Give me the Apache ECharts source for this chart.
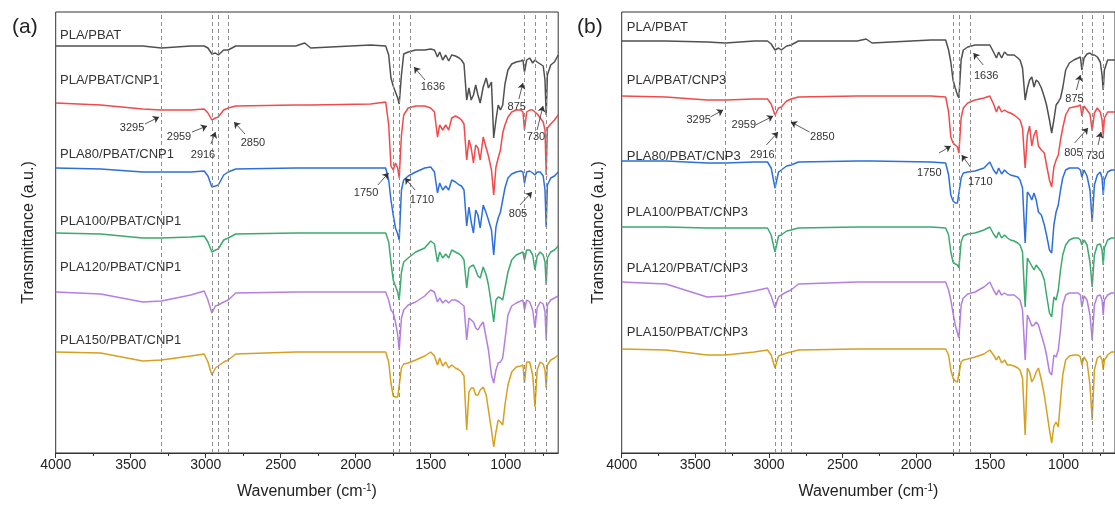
<!DOCTYPE html>
<html>
<head>
<meta charset="utf-8">
<script src="https://cdn.jsdelivr.net/npm/echarts@6/dist/echarts.min.js"></script>
<style>
  html, body { margin: 0; padding: 0; background: #fff; }
  #chart { width: 1115px; height: 505px; }
</style>
</head>
<body>
<div id="chart"></div>
<script>
// wavenumber grid (cm-1) shared by all spectra
const wn = [4000, 3700, 3420, 3295, 3100, 3010, 2985, 2959, 2935, 2916, 2880, 2850, 2800, 2400, 2340, 2300, 1900, 1800, 1780, 1765,
  1750, 1735, 1720, 1710, 1695, 1680, 1650, 1600, 1540, 1500, 1475, 1455, 1440, 1420, 1400, 1380, 1360, 1335, 1310, 1295,
  1278, 1260, 1245, 1230, 1215, 1200, 1185, 1170, 1150, 1130, 1115, 1095, 1080, 1065, 1050, 1035, 1020, 1005, 985, 960,
  930, 900, 885, 875, 860, 840, 820, 805, 790, 770, 750, 738, 730, 722, 700, 675, 650];

// panel (a) transmittance, offset (a.u.)
const aPlaPbat = [407,407,407,405,407,407,405,399,400,398, 403,403,407,407,410,405,408,407,398,375, 367,361,355,349,378,399,401,403,403,404,
  403,396,401,393,398,392,398,397,395,393, 389,353,365,353,358,368,358,350,366,375, 365,371,315,333,348,343,348,369,383,389,
  391,392,393,381,393,395,390,393,391,389, 387,373,338,378,388,391,398];
const aCnp1 = [350,348,344,343,343,344,340,333,335,336, 343,345,347,348,348,348,349,351,328,287, 283,290,285,275,318,338,345,347,347,345,
  341,316,328,323,328,323,335,337,335,333, 329,293,313,305,290,308,305,293,316,305, 297,283,258,286,295,303,320,328,336,341,
  343,343,341,323,341,343,343,341,339,335, 331,323,278,325,329,333,338];
const a80 = [285,284,281,281,281,282,277,266,267,268, 278,281,284,285,285,285,285,285,273,253, 238,225,219,213,263,273,277,281,285,286,
  281,260,270,263,267,263,273,271,268,267, 263,227,246,231,220,243,238,225,248,240, 233,223,198,226,235,241,253,265,275,279,
  281,282,281,270,281,282,280,278,281,281, 277,263,226,268,275,277,281];
const a100 = [220,219,215,215,216,217,211,201,203,204, 213,215,219,220,220,220,220,220,211,191, 173,167,161,153,181,191,195,201,205,212,
  209,191,201,195,199,195,203,201,199,197, 193,165,185,187,188,183,177,175,186,178, 168,148,131,153,156,155,153,165,181,193,
  198,200,201,193,203,203,198,183,197,201, 198,191,168,195,201,203,207];
const a120 = [161,159,151,152,158,162,153,140,147,148, 151,153,160,161,161,161,161,161,153,143, 140,131,118,103,135,143,148,151,157,163,
  161,151,155,150,153,150,153,153,151,149, 147,113,135,133,131,125,123,127,131,115, 103,78,70,83,90,91,95,113,138,147,
  150,152,153,143,153,151,143,125,145,151, 149,141,113,148,153,155,157];
const a150 = [101,100,92,93,97,99,91,78,85,87, 91,93,99,101,101,101,101,101,91,70, 57,56,56,55,85,89,90,93,97,101,
  97,88,95,87,91,85,88,85,83,81, 77,23,61,65,65,58,58,63,66,58, 43,23,6,21,33,31,28,48,68,81,
  86,87,88,70,91,91,78,46,83,91, 89,83,65,88,93,95,98];

// panel (b)
const bPlaPbat = [412,412,411,410,412,412,409,403,405,403, 407,408,412,412,414,410,413,413,403,391, 373,365,358,355,393,403,406,408,408,408,
  401,395,401,395,401,398,398,398,395,393, 385,353,365,373,376,366,373,371,365,356, 348,333,320,333,348,351,355,365,383,390,
  393,395,396,383,395,399,400,398,398,396, 391,378,363,383,393,393,393];
const bCnp3 = [357,356,353,353,354,354,349,338,345,346, 352,354,356,357,357,357,357,356,341,316, 310,308,306,300,335,345,350,353,355,357,
  349,341,347,341,343,341,340,338,335,333, 325,285,318,327,307,318,323,307,303,300, 288,273,266,286,293,298,313,325,338,345,
  346,347,348,337,347,343,339,322,340,345, 341,333,318,335,341,341,341];
const b80 = [292,292,290,290,291,291,285,265,281,283, 287,288,291,292,292,292,291,290,278,258, 252,250,250,250,275,280,281,282,285,291,
  283,279,285,279,283,280,278,277,276,273, 265,210,261,258,253,260,253,241,238,228, 218,203,200,228,241,248,263,275,283,285,
  285,285,283,276,283,277,263,231,268,278, 281,275,258,273,281,283,283];
const b100 = [226,226,225,225,225,225,218,201,217,218, 222,223,225,226,226,226,226,225,218,201, 191,189,188,185,211,217,219,220,223,226,
  219,215,221,215,218,215,213,212,210,208, 201,146,195,191,187,183,188,185,181,173, 158,140,136,156,153,163,183,198,208,213,
  215,215,213,208,213,208,191,166,198,208, 209,203,188,205,213,215,215];
const b120 = [171,169,156,157,162,165,157,145,156,158, 161,163,169,171,171,171,171,171,163,153, 140,128,120,115,148,155,159,161,166,171,
  163,158,163,158,160,158,158,158,155,153, 143,93,138,133,127,128,131,128,118,108, 98,81,78,98,96,103,123,148,158,160,
  160,160,158,146,157,153,138,113,148,157, 158,153,138,153,158,160,160];
const b150 = [104,103,98,98,101,103,98,85,97,98, 100,101,103,104,104,104,104,104,98,83, 75,72,71,72,91,93,94,96,99,103,
  98,93,97,90,93,88,88,87,85,83, 75,18,85,81,71,75,81,85,73,58, 43,23,10,27,31,26,53,78,93,97,
  98,98,96,88,96,91,68,33,83,95, 97,93,83,93,98,101,101];

const namesA = ['PLA/PBAT', 'PLA/PBAT/CNP1', 'PLA80/PBAT/CNP1', 'PLA100/PBAT/CNP1', 'PLA120/PBAT/CNP1', 'PLA150/PBAT/CNP1'];
const namesB = ['PLA/PBAT', 'PLA/PBAT/CNP3', 'PLA80/PBAT/CNP3', 'PLA100/PBAT/CNP3', 'PLA120/PBAT/CNP3', 'PLA150/PBAT/CNP3'];
// where each sample name sits: [wavenumber, transmittance]
const nameAtA = [[3971, 418], [3971, 373], [3971, 299], [3971, 232], [3971, 186], [3971, 113]];
const nameAtB = [[3965, 426], [3965, 373], [3965, 297], [3965, 241], [3965, 185], [3965, 121]];

const peaks = [3295, 2959, 2916, 2850, 1750, 1710, 1636, 875, 805, 730];
const majorTicks = [1000, 1500, 2000, 2500, 3000, 3500, 4000];
const minorTicks = [750, 1250, 1750, 2250, 2750, 3250, 3750];

// peak callouts: label position, arrow start, arrow end
const calloutsA = [
  { text: '3295', at: [3491, 325], from: [3405, 329], to: [3311, 336] },
  { text: '2959', at: [3178, 316], from: [3091, 321], to: [2991, 327] },
  { text: '2916', at: [3018, 298], from: [2965, 309], to: [2935, 321] },
  { text: '2850', at: [2685, 310], from: [2738, 319], to: [2811, 331] },
  { text: '1636', at: [1485, 366], from: [1538, 373], to: [1611, 386] },
  { text: '875', at: [926, 346], from: [912, 354], to: [885, 370] },
  { text: '730', at: [798, 316], from: [791, 323], to: [751, 347] },
  { text: '1750', at: [1931, 260], from: [1852, 268], to: [1781, 280] },
  { text: '1710', at: [1558, 253], from: [1605, 263], to: [1671, 275] },
  { text: '805', at: [918, 239], from: [905, 248], to: [825, 261] }
];
const calloutsB = [
  { text: '3295', at: [3477, 333], from: [3398, 336], to: [3311, 343] },
  { text: '2959', at: [3171, 328], from: [3091, 328], to: [2971, 337] },
  { text: '2916', at: [3045, 298], from: [3018, 308], to: [2938, 321] },
  { text: '2850', at: [2638, 316], from: [2725, 321], to: [2851, 331] },
  { text: '1636', at: [1525, 377], from: [1545, 388], to: [1611, 400] },
  { text: '875', at: [925, 354], from: [912, 363], to: [885, 378] },
  { text: '805', at: [933, 300], from: [925, 310], to: [833, 325] },
  { text: '730', at: [785, 297], from: [765, 308], to: [745, 321] },
  { text: '1750', at: [1911, 280], from: [1845, 300], to: [1765, 307] },
  { text: '1710', at: [1565, 271], from: [1632, 286], to: [1691, 298] }
];

const colors = ['#505050', '#f04a4c', '#2d6fdc', '#3aaa6e', '#b47fe2', '#d6a020'];
const FONT = 'Liberation Sans, Arial, sans-serif';

const chart = echarts.init(document.getElementById('chart'));

function xAxes(gridIndex) {
  return [
    {
      type: 'value', gridIndex, min: 650, max: 4000, inverse: true, position: 'bottom', offset: 0,
      axisLine: { lineStyle: { color: '#333', width: 1 } },
      axisTick: { length: 5, customValues: majorTicks, lineStyle: { color: '#333' } },
      axisLabel: { customValues: majorTicks, formatter: v => String(v), fontSize: 14, color: '#222', margin: 5, fontFamily: FONT },
      splitLine: { show: false },
      name: 'Wavenumber (cm{sup|-1})', nameLocation: 'middle', nameGap: 30,
      nameTextStyle: { fontSize: 16, color: '#222', fontFamily: FONT,
        rich: { sup: { fontSize: 10, fontFamily: FONT, color: '#222', verticalAlign: 'top', padding: [0, 0, 8, 0] } } }
    },
    {
      type: 'value', gridIndex, min: 650, max: 4000, inverse: true, position: 'bottom', offset: 0,
      axisLine: { show: false },
      axisTick: { length: 3, customValues: minorTicks, lineStyle: { color: '#333' } },
      axisLabel: { show: false },
      splitLine: { show: false }
    }
  ];
}

function yAxis(gridIndex, gap) {
  return {
    type: 'value', gridIndex, min: 0, max: 441,
    axisLine: { show: false }, axisTick: { show: false }, axisLabel: { show: false }, splitLine: { show: false },
    name: 'Transmittance (a.u.)', nameLocation: 'middle', nameGap: gap,
    nameTextStyle: { fontSize: 16, color: '#222', fontFamily: FONT }
  };
}

function panelSeries(p, samples, names, nameAt, callouts) {
  const xi = p * 2;
  const out = [];
  out.push({
    type: 'line', xAxisIndex: xi, yAxisIndex: p, data: [], z: 1, silent: true,
    markLine: {
      silent: true, symbol: ['none', 'none'], label: { show: false }, animation: false,
      emphasis: { disabled: true },
      lineStyle: { color: '#8f8f8f', type: [4, 3], width: 1 },
      data: peaks.map(v => ({ xAxis: v }))
    }
  });
  samples.forEach((s, k) => {
    out.push({
      type: 'line', xAxisIndex: xi, yAxisIndex: p, z: 3, silent: true,
      data: wn.map((w, i) => [w, s[i]]),
      symbol: 'none', showSymbol: false,
      lineStyle: { color: colors[k], width: 1.5 },
      emphasis: { disabled: true },
      markPoint: {
        silent: true, symbol: 'circle', symbolSize: 0, animation: false,
        label: { show: true, position: 'right', distance: 0, formatter: '{b}', color: '#333', fontSize: 13, fontFamily: FONT },
        data: [{ name: names[k], coord: nameAt[k] }]
      }
    });
  });
  out.push({
    type: 'line', xAxisIndex: xi, yAxisIndex: p, data: [], z: 4, silent: true,
    markLine: {
      silent: true, symbol: ['none', 'arrow'], symbolSize: 6, label: { show: false }, animation: false,
      emphasis: { disabled: true },
      lineStyle: { color: '#333', width: 0.8, type: 'solid' },
      data: callouts.map(c => [{ coord: c.from }, { coord: c.to }])
    },
    markPoint: {
      silent: true, symbol: 'circle', symbolSize: 0, animation: false,
      label: { show: true, position: 'inside', formatter: '{b}', color: '#333', fontSize: 11, fontFamily: FONT },
      data: callouts.map(c => ({ name: c.text, coord: c.at }))
    }
  });
  return out;
}

chart.setOption({
  animation: false,
  backgroundColor: '#fff',
  title: [
    { text: '(a)', left: 7, top: 12, textStyle: { fontSize: 21, fontWeight: 'normal', color: '#222', fontFamily: FONT } },
    { text: '(b)', left: 572, top: 12, textStyle: { fontSize: 21, fontWeight: 'normal', color: '#222', fontFamily: FONT } }
  ],
  grid: [
    { left: 55.7, top: 12, width: 502.5, height: 441, show: true, borderColor: '#333', borderWidth: 1 },
    { left: 621.7, top: 12, width: 502.5, height: 441, show: true, borderColor: '#333', borderWidth: 1 }
  ],
  xAxis: [...xAxes(0), ...xAxes(1)],
  yAxis: [yAxis(0, 19), yAxis(1, 15)],
  series: [
    ...panelSeries(0, [aPlaPbat, aCnp1, a80, a100, a120, a150], namesA, nameAtA, calloutsA),
    ...panelSeries(1, [bPlaPbat, bCnp3, b80, b100, b120, b150], namesB, nameAtB, calloutsB)
  ]
});
</script>
</body>
</html>
